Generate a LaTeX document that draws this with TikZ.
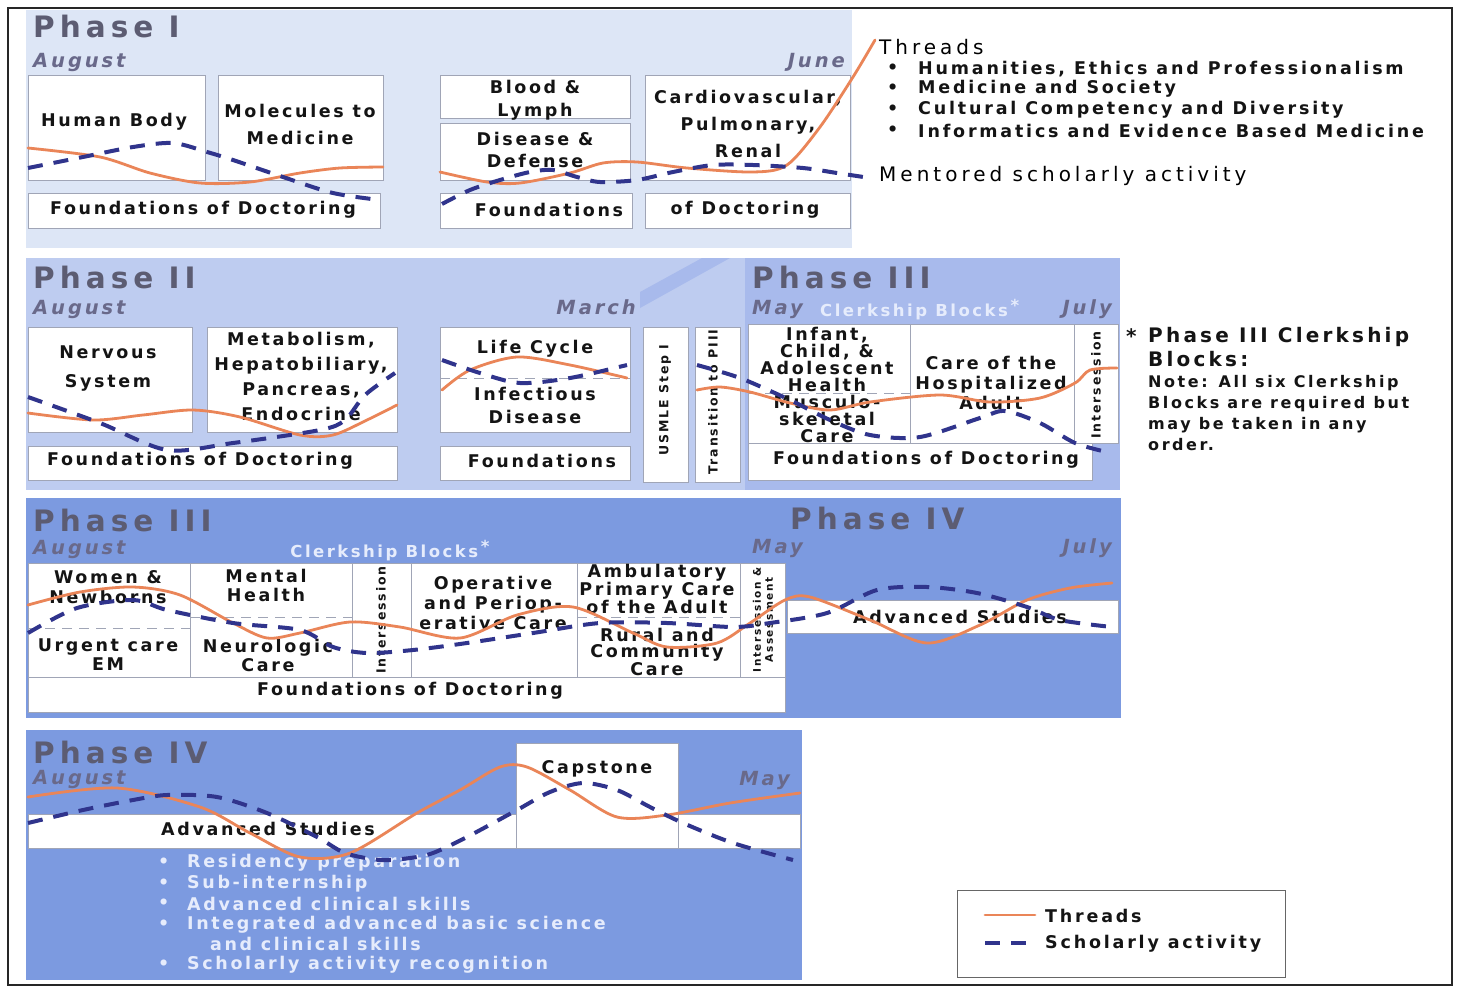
\documentclass[tikz,border=0pt]{standalone}
\usepackage{fontspec}
\newfontfamily\vf{DejaVu Sans}[LetterSpace=15]
\newfontfamily\vfh{DejaVu Sans}[LetterSpace=17]
\newfontfamily\vfw{DejaVu Sans}[LetterSpace=20]
\newfontfamily\vfs{DejaVu Sans}[LetterSpace=16]
\definecolor{p1bg}{RGB}{221,230,246}
\definecolor{p2bg}{RGB}{190,204,240}
\definecolor{p3bg}{RGB}{168,186,236}
\definecolor{p4bg}{RGB}{124,154,224}
\definecolor{hdrc}{RGB}{92,92,114}
\definecolor{monc}{RGB}{105,105,138}
\definecolor{thr}{RGB}{234,133,88}
\definecolor{sch}{RGB}{48,52,140}
\definecolor{bgray}{RGB}{160,165,182}
\definecolor{clk}{RGB}{230,236,252}
\newcommand\mkbox[6][cellbox]{\node[#1,anchor=north west,minimum width={(#5-#3)*1pt},minimum height={(#6-#4)*1pt}] (#2) at (#3,#4) {};}
\begin{document}
\begin{tikzpicture}[x=1pt,y=-1pt,
  panel/.style={draw=none,inner sep=0,outer sep=0},
  cellbox/.style={draw=bgray,fill=white,line width=0.7pt,inner sep=0,outer sep=0},
  bt/.style={font=\vf\bfseries\fontsize{17.5}{#1}\selectfont,align=center,inner sep=0,text=black!92},
  bt/.default=20,
  vt/.style={font=\vf\bfseries\fontsize{12.5}{14}\selectfont,rotate=90,align=center,inner sep=0,text=black!92},
  hdr/.style={font=\vfh\bfseries\fontsize{29.5}{30}\selectfont,text=hdrc,anchor=base west,inner sep=0},
  mon/.style={font=\vf\bfseries\itshape\fontsize{19.5}{20}\selectfont,text=monc,inner sep=0},
  clkt/.style={font=\vf\bfseries\fontsize{16.5}{18}\selectfont,text=clk,inner sep=0},
  bul/.style={font=\vf\bfseries\fontsize{17.5}{20}\selectfont,text=clk,anchor=west,inner sep=0},
  side/.style={font=\vfs\bfseries\fontsize{17.5}{20}\selectfont,text=black!92,anchor=west,inner sep=0},
  thread/.style={draw=thr,line width=2.8pt,line cap=round},
  scholar/.style={draw=sch,line width=4pt,dash pattern=on 15pt off 11pt},
  divider/.style={draw=bgray,line width=1pt,dash pattern=on 10pt off 7pt}
]
\useasboundingbox (0,0) rectangle (1461,989);
\fill[white] (0,0) rectangle (1461,989);
\draw[line width=1.2pt,black!85] (8,8) rectangle (1452,985);

% ---------- panels ----------
\mkbox[panel,fill=p1bg]{ph1}{26}{10}{852}{248}
\mkbox[panel,fill=p2bg]{ph2}{26}{258}{745}{490}
\mkbox[panel,fill=p3bg]{ph3a}{745}{258}{1120}{490}
\fill[p3bg] (640,292) -- (702,258) -- (730,258) -- (640,308) -- cycle;
\mkbox[panel,fill=p4bg]{ph3b}{26}{498}{786}{718}
\mkbox[panel,fill=p4bg]{ph4a}{786}{498}{1121}{718}
\mkbox[panel,fill=p4bg]{ph4b}{26}{730}{802}{980}

% ---------- Phase I ----------
\node[hdr] (h1) at (33,37) {Phase I};
\node[mon,anchor=base west] (m1a) at (33,67) {August};
\node[mon,anchor=base east] (m1b) at (845,67) {June};
\mkbox{hb}{28}{75}{205}{180}
\mkbox{mm}{218}{75}{383}{180}
\mkbox{fd1}{28}{193}{380}{228}
\mkbox{bl}{440}{75}{630}{118}
\mkbox{dd}{440}{123}{630}{180}
\mkbox{cpr}{645}{75}{850}{180}
\mkbox{fd2}{440}{193}{632}{228}
\mkbox{fd3}{645}{193}{850}{228}
\node[bt] (hbt) at (114,122) {Human Body};
\node[bt=27] (mmt) at (300,124) {Molecules to\\Medicine};
\node[bt] (fd1t) at (203,210) {Foundations of Doctoring};
\node[bt=23] (blt) at (535,100) {Blood \&\\Lymph};
\node[bt=22] (ddt) at (535,150) {Disease \&\\Defense};
\node[bt=27] (cprt) at (748,124) {Cardiovascular,\\Pulmonary,\\Renal};
\node[bt] (fd2t) at (549,210) {Foundations};
\node[bt] (fd3t) at (745,210) {of Doctoring};

% ---------- Phase II / III (row 2) ----------
\node[hdr] (h2) at (33,288) {Phase II};
\node[mon,anchor=base west] (m2a) at (33,314) {August};
\node[mon,anchor=base east] (m2b) at (636,314) {March};
\node[hdr] (h3) at (752,288) {Phase III};
\node[mon,anchor=base west] (m3a) at (752,314) {May};
\node[clkt,anchor=base west] (c3a) at (820,316) {Clerkship Blocks\,\raisebox{5pt}{*}};
\node[mon,anchor=base east] (m3b) at (1112,314) {July};
\mkbox{ns}{28}{327}{192}{432}
\mkbox{met}{207}{327}{397}{432}
\mkbox{fd4}{28}{446}{397}{480}
\mkbox{lc}{440}{327}{630}{432}
\mkbox{fd5}{440}{446}{630}{480}
\mkbox{us}{643}{327}{688}{482}
\mkbox{tr}{695}{327}{740}{482}
\mkbox{inf}{748}{324}{910}{443}
\mkbox{coh}{910}{324}{1074}{443}
\mkbox{is1}{1074}{324}{1118}{443}
\mkbox{fd6}{748}{443}{1092}{480}
\draw[divider] (lc.west |- 0,378) -- (lc.east |- 0,378);
\draw[divider] (inf.west |- 0,393) -- (inf.east |- 0,393);
\node[bt=29] (nst) at (108,368) {Nervous\\System};
\node[bt=25] (mett) at (301,376) {Metabolism,\\Hepatobiliary,\\Pancreas,\\Endocrine};
\node[bt] (fd4t) at (200,461) {Foundations of Doctoring};
\node[bt] (lct) at (535,349) {Life Cycle};
\node[bt=23] (idt) at (535,405) {Infectious\\Disease};
\node[bt] (fd5t) at (542,461) {Foundations};
\node[vt] (ust) at (665,400) {USMLE Step I};
\node[vt] (trt) at (713,402) {Transition to PIII};
\node[bt=17] (inft) at (827,385) {Infant,\\Child, \&\\Adolescent\\Health\\Musculo-\\skeletal\\Care};
\node[bt=20] (coht) at (991,383) {Care of the\\Hospitalized\\Adult};
\node[vt] (is1t) at (1096,385) {Intersession};
\node[bt] (fd6t) at (926,460) {Foundations of Doctoring};

% ---------- Phase III / IV (row 3) ----------
\node[hdr] (h4) at (33,531) {Phase III};
\node[mon,anchor=base west] (m4a) at (33,554) {August};
\node[clkt,anchor=base] (c4a) at (390,557) {Clerkship Blocks\,\raisebox{5pt}{*}};
\node[mon,anchor=base west] (m4b) at (752,553) {May};
\node[hdr] (h5) at (790,529) {Phase IV};
\node[mon,anchor=base east] (m5b) at (1112,553) {July};
\mkbox{wn}{28}{563}{190}{677}
\mkbox{mh}{190}{563}{352}{677}
\mkbox{is2}{352}{563}{411}{677}
\mkbox{op}{411}{563}{577}{677}
\mkbox{amb}{577}{563}{740}{677}
\mkbox{is3}{740}{563}{785}{677}
\mkbox{fd7}{28}{677}{785}{712}
\mkbox{adv1}{787}{600}{1118}{633}
\draw[divider] (wn.west |- 0,628) -- (wn.east |- 0,628);
\draw[divider] (mh.west |- 0,617) -- (mh.east |- 0,617);
\draw[divider] (amb.west |- 0,617) -- (amb.east |- 0,617);
\node[bt] (wnt) at (108,587) {Women \&\\Newborns};
\node[bt=19] (uct) at (108,655) {Urgent care\\EM};
\node[bt=19] (mht) at (266,585) {Mental\\Health};
\node[bt=19] (nct) at (268,655) {Neurologic\\Care};
\node[vt] (is2t) at (381,620) {Intersession};
\node[bt] (opt) at (493,603) {Operative\\and Periop-\\erative Care};
\node[bt=16] (ambt) at (657,589) {Ambulatory\\Primary Care\\of the Adult};
\node[bt=16.5] (rct) at (657,652) {Rural and\\Community\\Care};
\node[vt,font=\vf\bfseries\fontsize{10.5}{12}\selectfont] (is3t) at (763,620) {Intersession \&\\Assessment};
\node[bt] (fd7t) at (410,691) {Foundations of Doctoring};
\node[bt] (adv1t) at (960,617) {Advanced Studies};

% ---------- Phase IV (row 4) ----------
\node[hdr] (h6) at (33,763) {Phase IV};
\node[mon,anchor=base west] (m6a) at (33,784) {August};
\node[mon,anchor=base east] (m6b) at (790,785) {May};
\mkbox{adv2a}{28}{814}{516}{848}
\mkbox{cap}{516}{743}{678}{848}
\mkbox{adv2b}{678}{814}{800}{848}
\node[bt] (capt) at (597,769) {Capstone};
\node[bt] (adv2t) at (268,829) {Advanced Studies};
\foreach \yy/\tt [count=\i] in {863/Residency preparation,884/Sub-internship,904/Advanced clinical skills,925/Integrated advanced basic science,965/Scholarly activity recognition}{
  \node[bul] (bb\i) at (158,\yy) {\textbullet};
  \node[bul] (bt\i) at (187,\yy) {\tt};
}
\node[bul] (bt6) at (210,944) {and clinical skills};

% ---------- right side texts ----------
\node[font=\vfw\fontsize{20}{22}\selectfont,anchor=west,inner sep=0,text=black] (thr0) at (879,47) {Threads};
\foreach \yy/\tt [count=\i] in {69/{Humanities, Ethics and Professionalism},89/Medicine and Society,110/Cultural Competency and Diversity,131/Informatics and Evidence Based Medicine}{
  \node[side] (tb\i) at (887,\yy) {\textbullet};
  \node[side] (tt\i) at (918,\yy) {\tt};
}
\node[font=\vfw\fontsize{20}{22}\selectfont,anchor=west,inner sep=0,text=black] (msa) at (879,176) {Mentored scholarly activity};
\node[font=\vfs\bfseries\fontsize{20}{24}\selectfont,anchor=west,inner sep=0,text=black!92] (ast) at (1126,336) {*};
\node[font=\vfs\bfseries\fontsize{20}{24}\selectfont,anchor=north west,align=left,inner sep=0,text=black!92] (p3n) at (1148,327) {Phase III Clerkship\\Blocks:};
\node[font=\vfs\bfseries\fontsize{16}{21}\selectfont,anchor=north west,align=left,inner sep=0,text=black!92] (p3nb) at (1148,375) {Note: All six Clerkship\\Blocks are required but\\may be taken in any\\order.};

% ---------- legend ----------
\mkbox[draw=black!60,line width=1.2pt,fill=white,inner sep=0]{leg}{957}{890}{1285}{977}
\coordinate (l1a) at (985,915); \coordinate (l1b) at (1035,915);
\coordinate (l2a) at (985,943); \coordinate (l2b) at (1028,943);
\draw[thread] (l1a) -- (l1b);
\draw[scholar] (l2a) -- (l2b);
\node[side] (lt1) at (1045,916) {Threads};
\node[side] (lt2) at (1045,944) {Scholarly activity};

% ---------- curves ----------
\draw[thread] plot[smooth,tension=0.5] coordinates {(28,148)(100,157)(150,173)(200,183)(250,182)(300,173)(340,168)(383,167)};
\draw[thread] plot[smooth,tension=0.5] coordinates {(440,172)(487,182)(520,183)(570,173)(603,163)(637,162)(687,168)(753,172)(787,165)(820,127)(853,77)(875,40)};
\draw[scholar] plot[smooth,tension=0.5] coordinates {(28,168)(83,157)(133,147)(173,143)(207,152)(233,160)(283,177)(333,193)(380,200)};
\draw[scholar] plot[smooth,tension=0.5] coordinates {(442,204)(470,190)(500,180)(530,172)(553,170)(577,177)(600,182)(637,180)(673,172)(713,165)(753,165)(803,168)(837,173)(870,178)};

\draw[thread] plot[smooth,tension=0.5] coordinates {(28,413)(93,420)(143,415)(193,410)(240,417)(300,435)(333,435)(367,420)(397,405)};
\draw[thread] plot[smooth,tension=0.5] coordinates {(442,390)(470,370)(517,357)(570,365)(627,378)};
\draw[thread] plot[smooth,tension=0.5] coordinates {(697,390)(720,387)(750,392)(790,403)(830,410)(870,402)(940,395)(990,402)(1040,398)(1075,383)(1090,370)(1117,368)};
\draw[scholar] plot[smooth,tension=0.5] coordinates {(28,397)(100,423)(167,450)(233,443)(320,430)(345,420)(365,395)(395,373)};
\draw[scholar] plot[smooth,tension=0.5] coordinates {(442,360)(480,373)(520,383)(570,378)(627,365)};
\draw[scholar] plot[smooth,tension=0.5] coordinates {(697,365)(740,378)(790,400)(830,420)(870,435)(920,437)(980,418)(1005,411)(1040,423)(1075,443)(1107,452)};

\draw[thread] plot[smooth,tension=0.5] coordinates {(28,605)(80,592)(133,587)(180,595)(233,623)(267,638)(300,633)(350,622)(400,627)(460,638)(517,615)(573,607)(633,633)(667,647)(717,643)(750,623)(785,600)(810,597)(870,620)(927,643)(980,625)(1027,600)(1070,588)(1112,583)};
\draw[scholar] plot[smooth,tension=0.5] coordinates {(28,633)(77,608)(133,600)(167,610)(233,623)(300,630)(333,647)(367,653)(413,650)(467,643)(533,633)(600,623)(667,623)(733,627)(770,623)(827,613)(877,590)(927,587)(977,593)(1027,607)(1060,620)(1112,627)};

\draw[thread] plot[smooth,tension=0.5] coordinates {(28,797)(117,788)(200,807)(250,833)(300,857)(350,853)(417,813)(460,790)(500,767)(527,767)(570,790)(617,817)(667,815)(730,803)(800,793)};
\draw[scholar] plot[smooth,tension=0.5] coordinates {(28,823)(83,810)(133,800)(167,795)(217,797)(267,813)(317,837)(345,853)(380,860)(410,858)(433,853)(467,837)(517,810)(550,792)(583,783)(617,790)(650,807)(683,823)(733,843)(793,860)};
\end{tikzpicture}
\end{document}
